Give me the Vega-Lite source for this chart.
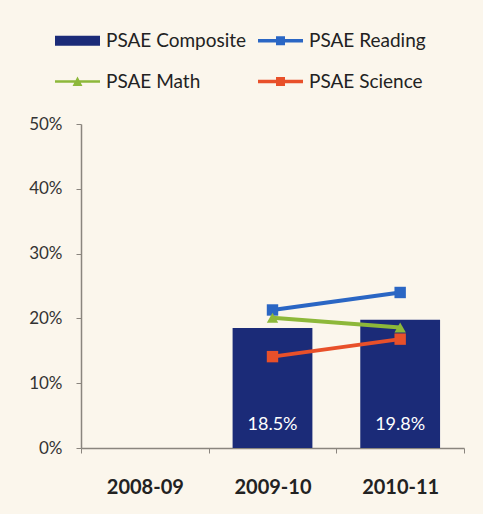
{
  "$schema": "https://vega.github.io/schema/vega-lite/v6.json",
  "width": 383,
  "height": 324,
  "autosize": "none",
  "padding": {"left": 81, "top": 124, "right": 19, "bottom": 66},
  "background": "#fbf6ec",
  "config": {"view": {"stroke": null}, "font": "Lato"},
  "data": {"values": [
    {"year": "2009-10", "series": "PSAE Composite", "value": 18.5, "label": "18.5%"},
    {"year": "2010-11", "series": "PSAE Composite", "value": 19.8, "label": "19.8%"},
    {"year": "2009-10", "series": "PSAE Reading", "value": 21.3},
    {"year": "2010-11", "series": "PSAE Reading", "value": 24.0},
    {"year": "2009-10", "series": "PSAE Math", "value": 20.1},
    {"year": "2010-11", "series": "PSAE Math", "value": 18.6},
    {"year": "2009-10", "series": "PSAE Science", "value": 14.1},
    {"year": "2010-11", "series": "PSAE Science", "value": 16.8}
  ]},
  "encoding": {
    "x": {"field": "year", "type": "nominal", "sort": null,
      "scale": {"domain": ["2008-09", "2009-10", "2010-11"], "paddingInner": 0, "paddingOuter": 0},
      "axis": {"title": null, "labelAngle": 0, "tickBand": "extent", "tickExtra": true,
        "domainColor": "#8a857e", "tickColor": "#8a857e", "tickSize": 5, "domainWidth": 1.5,
        "labelFont": "Lato", "labelFontSize": 20, "labelFontWeight": "bold", "labelColor": "#222222", "labelPadding": 24}},
    "y": {"field": "value", "type": "quantitative",
      "scale": {"domain": [0, 50], "nice": false},
      "axis": {"title": null, "values": [0, 10, 20, 30, 40, 50], "labelExpr": "datum.value + '%'", "grid": false,
        "domainColor": "#8a857e", "tickColor": "#8a857e", "tickSize": 5, "domainWidth": 1.5,
        "labelFont": "Lato", "labelFontSize": 17, "labelColor": "#333333", "labelPadding": 14}},
    "color": {"field": "series", "type": "nominal",
      "scale": {"domain": ["PSAE Composite", "PSAE Math", "PSAE Reading", "PSAE Science"],
        "range": ["#1b2b78", "#8db83a", "#2a66c4", "#e8502a"]},
      "legend": {"title": null, "orient": "none", "legendX": -26, "legendY": -106, "columns": 2,
        "values": ["PSAE Composite", "PSAE Math", "PSAE Reading", "PSAE Science"],
        "symbolSize": 2025, "labelFont": "Lato", "labelFontSize": 19, "labelColor": "#222222",
        "labelOffset": 6, "columnPadding": 11, "rowPadding": 8,
        "encode": {"symbols": {"update": {
          "shape": {"signal": "datum.value === 'PSAE Composite' ? 'M-1,-0.22H1V0.22H-1Z' : (datum.value === 'PSAE Math' ? 'M-1,-0.06H1V0.06H-1Z M-0.22,0.2L0,-0.22L0.22,0.2Z' : 'M-1,-0.08H1V0.08H-1Z M-0.2,-0.2H0.2V0.2H-0.2Z')"},
          "fill": {"scale": "color", "field": "value"},
          "stroke": {"value": "transparent"},
          "strokeWidth": {"value": 0},
          "opacity": {"value": 1}
        }}}}}
  },
  "layer": [
    {"transform": [{"filter": "datum.series === 'PSAE Composite'"}],
     "mark": {"type": "bar", "width": {"band": 0.625}}},
    {"transform": [{"filter": "datum.series === 'PSAE Composite'"}],
     "mark": {"type": "text", "color": "white", "font": "Lato", "fontSize": 18, "dy": -23, "baseline": "middle"},
     "encoding": {"y": {"datum": 0}, "text": {"field": "label"}, "color": {"value": "white"}}},
    {"transform": [{"filter": "datum.series !== 'PSAE Composite'"}],
     "mark": {"type": "line", "strokeWidth": 4},
     "encoding": {"detail": {"field": "series"}}},
    {"transform": [{"filter": "datum.series !== 'PSAE Composite'"}],
     "mark": {"type": "point", "filled": true, "opacity": 1},
     "encoding": {
       "shape": {"field": "series", "type": "nominal", "legend": null,
         "scale": {"domain": ["PSAE Reading", "PSAE Math", "PSAE Science"], "range": ["square", "triangle-up", "square"]}},
       "size": {"field": "series", "type": "nominal", "legend": null,
         "scale": {"domain": ["PSAE Reading", "PSAE Math", "PSAE Science"], "range": [130, 130, 70]}}}}
  ]
}
